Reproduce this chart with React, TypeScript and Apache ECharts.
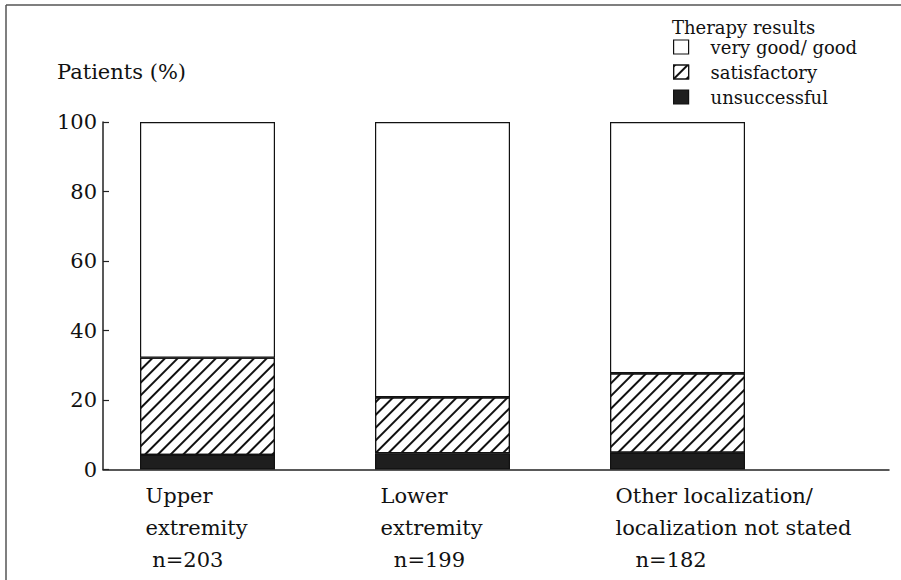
import React, { useEffect, useRef } from "react";
import * as echarts from "echarts";

const categories = ["Upper\nextremity", "Lower\nextremity", "Other localization/\nlocalization not stated"];
const sampleSizes = ["n=203", "n=199", "n=182"];
const unsuccessful = [4.2, 4.7, 4.8];
const satisfactory = [28.0, 16.1, 22.9];
const veryGood = [67.8, 79.2, 72.3];
const yTicks = [0, 20, 40, 60, 80, 100];
const legendNames = ["very good/ good", "satisfactory", "unsuccessful"];

const FONT = "DejaVu Serif";
const INK = "#111";

export default function App() {
  const ref = useRef<HTMLDivElement>(null);
  useEffect(() => {
    if (!ref.current) return;
    const chart = echarts.init(ref.current, undefined, { renderer: "svg" });
    const indents = [1, 2, 3];
    const hatch = {
      symbol: "rect",
      symbolSize: 1,
      dashArrayX: [1, 0],
      dashArrayY: [2, 7],
      rotation: -Math.PI / 4,
      color: INK,
    };
    chart.setOption({
      animation: false,
      backgroundColor: "#fff",
      textStyle: { fontFamily: FONT, color: INK },
      title: {
        text: "Therapy results",
        left: 672,
        top: 18,
        padding: 0,
        textStyle: { fontFamily: FONT, fontSize: 18, fontWeight: "normal", color: INK, lineHeight: 18 },
      },
      legend: {
        orient: "vertical",
        left: 673,
        top: 38,
        padding: 0,
        itemWidth: 15,
        itemHeight: 14,
        itemGap: 7,
        icon: "rect",
        data: legendNames,
        itemStyle: { borderColor: INK, borderWidth: 1.2 },
        textStyle: { fontFamily: FONT, fontSize: 18, color: INK, lineHeight: 18, padding: [0, 0, 0, 17] },
      },
      graphic: [
        { type: "line", shape: { x1: 6, y1: 5, x2: 901, y2: 5 }, style: { stroke: "#555", lineWidth: 1.5 } },
        { type: "line", shape: { x1: 6, y1: 5, x2: 6, y2: 580 }, style: { stroke: "#555", lineWidth: 1.5 } },
      ],
      grid: [
        { left: 103, top: 122, width: 786, height: 347.5 },
        { left: 90, top: 122, width: 705, height: 347.5 },
      ],
      xAxis: [
        {
          gridIndex: 0,
          type: "value",
          min: 0,
          max: 1,
          axisLine: { show: true, lineStyle: { color: "#222", width: 1.5 } },
          axisTick: { show: false },
          axisLabel: { show: false },
          splitLine: { show: false },
        },
        {
          gridIndex: 1,
          type: "category",
          data: categories,
          axisLine: { show: false },
          axisTick: { show: false },
          axisLabel: {
            interval: 0,
            hideOverlap: false,
            align: "left",
            verticalAlign: "top",
            margin: 10,
            padding: [0, 0, 0, -62],
            fontFamily: FONT,
            fontSize: 21,
            lineHeight: 32,
            color: INK,
            formatter: (v: string, i: number) => v + "\n" + "\u00A0".repeat(indents[i]) + sampleSizes[i],
          },
        },
      ],
      yAxis: [
        {
          gridIndex: 0,
          type: "value",
          min: 0,
          max: 100,
          interval: 20,
          name: "Patients (%)",
          nameLocation: "end",
          nameGap: 50,
          nameTextStyle: {
            fontFamily: FONT,
            fontSize: 21,
            color: INK,
            align: "left",
            verticalAlign: "middle",
            padding: [0, 0, 0, -46],
          },
          axisLine: { show: true, lineStyle: { color: "#222", width: 1.5 } },
          axisTick: { show: true, inside: true, length: 6, lineStyle: { color: "#222", width: 1.2 } },
          axisLabel: {
            margin: 6,
            fontFamily: FONT,
            fontSize: 21,
            color: INK,
            formatter: (v: number) => (yTicks.includes(v) ? String(v) : ""),
          },
          splitLine: { show: false },
        },
        {
          gridIndex: 1,
          type: "value",
          min: 0,
          max: 100,
          show: false,
        },
      ],
      series: [
        {
          name: "unsuccessful",
          type: "bar",
          stack: "total",
          xAxisIndex: 1,
          yAxisIndex: 1,
          barWidth: 135,
          data: unsuccessful,
          itemStyle: { color: "#1e1e1e", borderColor: INK, borderWidth: 1.2 },
        },
        {
          name: "satisfactory",
          type: "bar",
          stack: "total",
          xAxisIndex: 1,
          yAxisIndex: 1,
          barWidth: 135,
          data: satisfactory,
          itemStyle: { color: "#fff", borderColor: INK, borderWidth: 1.2, decal: hatch },
        },
        {
          name: "very good/ good",
          type: "bar",
          stack: "total",
          xAxisIndex: 1,
          yAxisIndex: 1,
          barWidth: 135,
          data: veryGood,
          itemStyle: { color: "#fff", borderColor: INK, borderWidth: 1.2 },
        },
      ],
    });
    return () => chart.dispose();
  }, []);
  return (
    <div
      ref={ref}
      style={{ position: "fixed", left: 0, top: 0, width: 901, height: 580, background: "#fff" }}
    />
  );
}
